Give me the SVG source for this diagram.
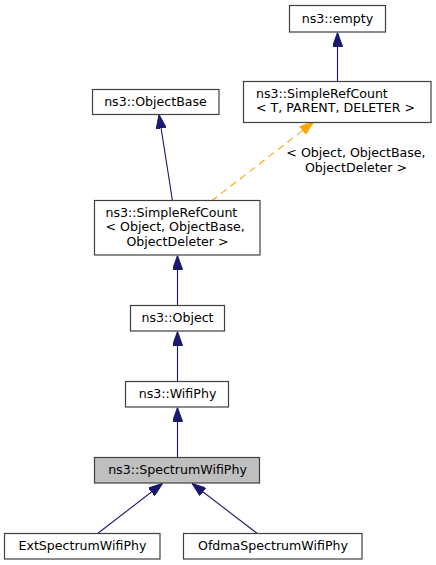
<svg xmlns="http://www.w3.org/2000/svg" width="436" height="565" viewBox="0 0 436 565">
<style>
.n rect{fill:#ffffff;stroke:#404040;stroke-width:1.2}
.n rect.hl{fill:#bfbfbf}
text{font-family:"DejaVu Sans","Liberation Sans",sans-serif;font-size:12.6px;fill:#000000}
.c{text-anchor:middle}
.e line{stroke:#191970;stroke-width:1.1;fill:none}
.e line.t{stroke:#ffa500;stroke-dasharray:7,5}
</style>
<defs>
<marker id="ab" markerUnits="userSpaceOnUse" markerWidth="14" markerHeight="10" refX="14" refY="5" orient="auto">
<path d="M0,0 L14,5 L0,10 z" fill="#191970" stroke="#191970" stroke-width="1"/>
</marker>
<marker id="ao" markerUnits="userSpaceOnUse" markerWidth="14" markerHeight="10" refX="14" refY="5" orient="auto">
<path d="M0,0 L14,5 L0,10 z" fill="#ffa500" stroke="#ffa500" stroke-width="1"/>
</marker>
</defs>
<g id="connectors" class="e">
<line x1="337.5" y1="81" x2="337.5" y2="32.5" marker-end="url(#ab)"/>
<line x1="172.5" y1="201" x2="159" y2="114.5" marker-end="url(#ab)"/>
<line class="t" x1="211.5" y1="201" x2="313.5" y2="122" marker-end="url(#ao)"/>
<line x1="177.5" y1="306" x2="177.5" y2="255.5" marker-end="url(#ab)"/>
<line x1="177.5" y1="382" x2="177.5" y2="331.5" marker-end="url(#ab)"/>
<line x1="177.5" y1="458" x2="177.5" y2="407.5" marker-end="url(#ab)"/>
<line x1="97" y1="534" x2="162.5" y2="483.5" marker-end="url(#ab)"/>
<line x1="258" y1="534" x2="192" y2="483.5" marker-end="url(#ab)"/>
<text class="c" x="356" y="157">&lt; Object, ObjectBase,</text>
<text class="c" x="356" y="172">ObjectDeleter &gt;</text>
</g>
<g id="empty" class="n">
<rect x="289.5" y="5.5" width="96" height="26.5"/>
<text class="c" x="337.5" y="23">ns3::empty</text>
</g>
<g id="SimpleRefCountTPD" class="n">
<rect x="243.5" y="81.5" width="187.5" height="41"/>
<text x="256" y="97.5">ns3::SimpleRefCount</text>
<text x="256" y="112">&lt; T, PARENT, DELETER &gt;</text>
</g>
<g id="ObjectBase" class="n">
<rect x="92.5" y="89.5" width="126.5" height="25"/>
<text class="c" x="155.5" y="105.5">ns3::ObjectBase</text>
</g>
<g id="SimpleRefCountObj" class="n">
<rect x="94.5" y="200.5" width="165.5" height="54.5"/>
<text x="105.5" y="216.5">ns3::SimpleRefCount</text>
<text x="105.5" y="231">&lt; Object, ObjectBase,</text>
<text class="c" x="177.5" y="245.5">ObjectDeleter &gt;</text>
</g>
<g id="Object" class="n">
<rect x="130.5" y="305.5" width="94" height="25.5"/>
<text class="c" x="177.5" y="322">ns3::Object</text>
</g>
<g id="WifiPhy" class="n">
<rect x="125.5" y="381.5" width="103" height="25.5"/>
<text class="c" x="177.5" y="398">ns3::WifiPhy</text>
</g>
<g id="SpectrumWifiPhy" class="n">
<rect class="hl" x="94.5" y="457.5" width="165" height="25.5"/>
<text class="c" x="177.5" y="474">ns3::SpectrumWifiPhy</text>
</g>
<g id="ExtSpectrumWifiPhy" class="n">
<rect x="4.5" y="533.5" width="155.5" height="25.5"/>
<text class="c" x="82.5" y="550">ExtSpectrumWifiPhy</text>
</g>
<g id="OfdmaSpectrumWifiPhy" class="n">
<rect x="183.5" y="533.5" width="178.5" height="25.5"/>
<text class="c" x="273" y="550">OfdmaSpectrumWifiPhy</text>
</g>
</svg>
